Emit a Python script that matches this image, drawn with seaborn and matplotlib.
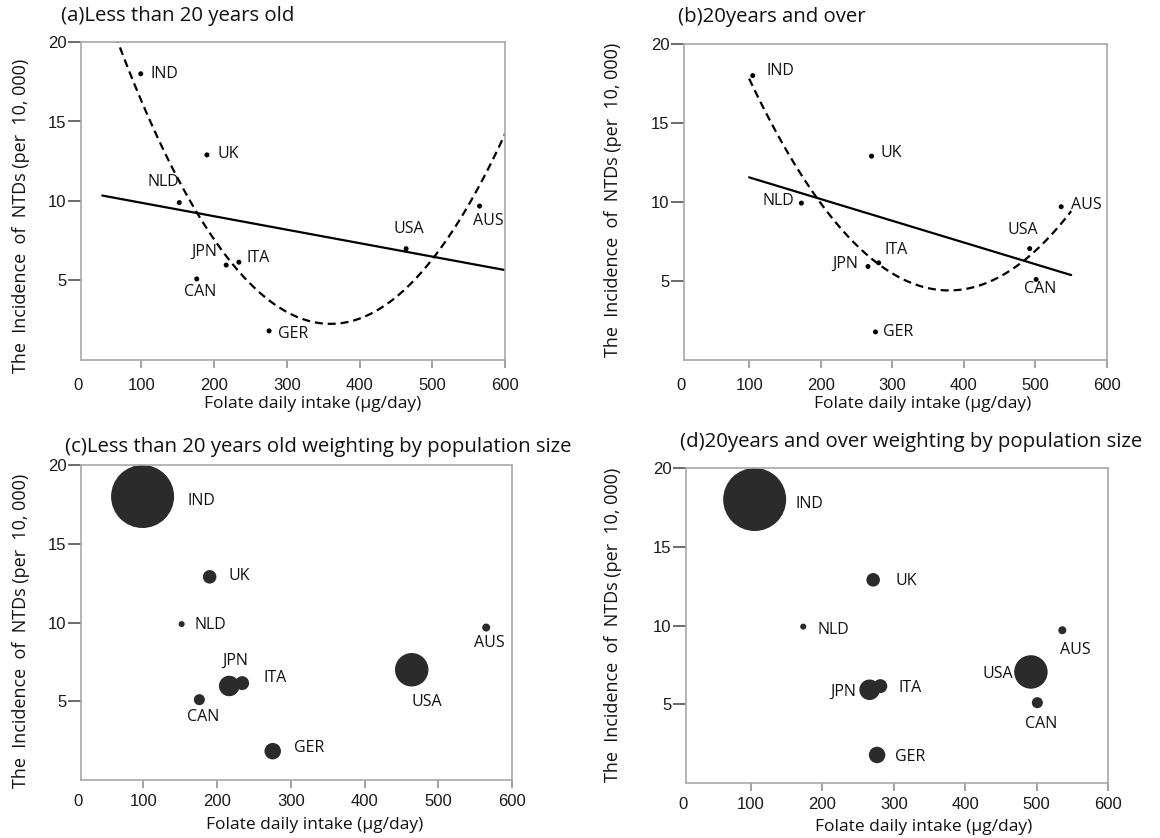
import numpy as np
import pandas as pd
import matplotlib
matplotlib.use('Agg')
import matplotlib.pyplot as plt
import seaborn as sns
from matplotlib import font_manager

COUNTRIES = ['IND', 'UK', 'NLD', 'JPN', 'ITA', 'CAN', 'GER', 'USA', 'AUS']

# less than 20 years old (panels a and c)
INTAKE_U20 = [99, 190, 152, 216.5, 234, 176, 275.5, 464, 565]
NTD_U20 = [18.0, 12.9, 9.9, 5.97, 6.15, 5.1, 1.83, 7.0, 9.68]

# 20 years and over (panels b and d)
INTAKE_O20 = [105, 271, 173, 266, 281, 501, 276.5, 492, 536]
NTD_O20 = [18.0, 12.9, 9.93, 5.92, 6.15, 5.1, 1.78, 7.05, 9.7]

# population weights (millions)
POPULATION = [1300, 60, 12, 138, 64, 40, 89, 367, 21]

TITLES = ['(a)Less than 20 years old',
          '(b)20years and over',
          '(c)Less than 20 years old weighting by population size',
          '(d)20years and over weighting by population size']
XTICKS = [100, 200, 300, 400, 500, 600]
YTICKS = [5, 10, 15, 20]
XLABEL = 'Folate daily intake (μg/day)'
YLABEL = 'The  Incidence  of  NTDs (per  10, 000)'

W, H = 1160, 838

# label placement: (ha, dx px, dy px)
LAB_A = {'IND': ('left', 10, 0), 'UK': ('left', 11, 1), 'NLD': ('center', -16, 21),
         'JPN': ('center', -22, 13), 'ITA': ('left', 8, 4), 'CAN': ('center', 3, -13),
         'GER': ('left', 9, -3), 'USA': ('center', 3, 20), 'AUS': ('center', 9, -15)}
LAB_B = {'IND': ('left', 14, 5), 'UK': ('left', 9, 3), 'NLD': ('right', -7, 2),
         'JPN': ('right', -10, 3), 'ITA': ('left', 6, 13), 'CAN': ('center', 4, -10),
         'GER': ('left', 8, 0), 'USA': ('center', -7, 19), 'AUS': ('left', 10, 2)}
LAB_C = {'IND': ('left', 45, -4), 'UK': ('left', 19, 1), 'NLD': ('left', 13, -1),
         'JPN': ('center', 6, 25), 'ITA': ('left', 21, 5), 'CAN': ('center', 4, -17),
         'GER': ('left', 21, 3), 'USA': ('center', 15, -32), 'AUS': ('center', 3, -15)}
LAB_D = {'IND': ('left', 41, -4), 'UK': ('left', 22, -1), 'NLD': ('left', 14, -3),
         'JPN': ('right', -13, -2), 'ITA': ('left', 18, -2), 'CAN': ('center', 4, -21),
         'GER': ('left', 18, -2), 'USA': ('right', -18, -2), 'AUS': ('center', 13, -20)}

# panel layout in pixels: axes box (left, right, top, bottom), xlim left, fit span,
# title (x, y), ylabel centre, xlabel centre, x tick pad
PANELS = [
    dict(box=(81, 505, 42, 360), xmin=16.8, span=(46, 600), bubble=False, pad=7,
         x=INTAKE_U20, y=NTD_U20, labels=LAB_A, title=(61, 16), ylab=(21, 216), xlab=(313, 404)),
    dict(box=(684, 1107, 44, 360), xmin=9, span=(100, 550), bubble=False, pad=7,
         x=INTAKE_O20, y=NTD_O20, labels=LAB_B, title=(678, 17), ylab=(613, 200), xlab=(923, 404)),
    dict(box=(81, 512, 465, 780), xmin=15.5, span=None, bubble=True, pad=4,
         x=INTAKE_U20, y=NTD_U20, labels=LAB_C, title=(65, 447), ylab=(21, 631), xlab=(315, 825)),
    dict(box=(686, 1108, 468, 783), xmin=8.8, span=None, bubble=True, pad=4,
         x=INTAKE_O20, y=NTD_O20, labels=LAB_D, title=(680, 442), ylab=(613, 625), xlab=(924, 827)),
]

sns.set_style('white')
names = {f.name for f in font_manager.fontManager.ttflist}
TICK_FONT = 'Liberation Sans Narrow' if 'Liberation Sans Narrow' in names else 'Liberation Sans'
plt.rcParams['font.family'] = ['Open Sans', 'DejaVu Sans']

fig = plt.figure(figsize=(W / 100, H / 100), dpi=100)

for i, p in enumerate(PANELS):
    l, r, t, b = p['box']
    ax = fig.add_axes([l / W, 1 - b / H, (r - l) / W, (b - t) / H])
    df = pd.DataFrame({'country': COUNTRIES, 'intake': p['x'], 'ntd': p['y'], 'pop': POPULATION})

    if p['bubble']:
        sns.scatterplot(data=df, x='intake', y='ntd', size='pop', sizes=(0, 2058),
                        size_norm=(0, 1300), color='#2b2b2b', edgecolor='none',
                        legend=False, ax=ax)
    else:
        # fitted linear and quadratic regressions drawn across the span
        ax.set_xlim(*p['span'])
        sns.regplot(data=df, x='intake', y='ntd', order=1, ci=None, scatter=False,
                    truncate=False, ax=ax, line_kws=dict(color='black', lw=1.6))
        sns.regplot(data=df, x='intake', y='ntd', order=2, ci=None, scatter=False,
                    truncate=False, ax=ax,
                    line_kws=dict(color='black', lw=1.6, ls=(0, (3.6, 2.2))))
        sns.scatterplot(data=df, x='intake', y='ntd', color='black', s=13,
                        edgecolor='none', legend=False, ax=ax)

    for c, xv, yv in zip(COUNTRIES, p['x'], p['y']):
        ha, dx, dy = p['labels'][c]
        ax.annotate(c, (xv, yv), xytext=(dx, dy), textcoords='offset pixels',
                    ha=ha, va='center', fontsize=11.5, color='#111111')

    ax.set_xlim(p['xmin'], 600)
    ax.set_ylim(0, 20)
    ax.set_xticks(XTICKS)
    ax.set_yticks(YTICKS)
    ax.set_xlabel('')
    ax.set_ylabel('')
    for s in ax.spines.values():
        s.set_visible(True)
        s.set_color('#a8a8a8')
        s.set_linewidth(1.2)
    ax.tick_params(axis='y', left=True, length=9.5, width=1.1, color='#444444',
                   pad=1, labelsize=12, labelcolor='#1a1a1a')
    ax.tick_params(axis='x', bottom=True, length=6, width=1.1, color='#888888',
                   pad=p['pad'], labelsize=12, labelcolor='#1a1a1a')
    for lbl in ax.get_xticklabels() + ax.get_yticklabels():
        lbl.set_family(TICK_FONT)
    ax.annotate('0', (0, 0), xycoords='axes fraction', xytext=(-2, -(6 + p['pad'])),
                textcoords='offset points', ha='center', va='top',
                fontsize=12, color='#1a1a1a', family=TICK_FONT)

    fig.text(p['title'][0] / W, 1 - p['title'][1] / H, TITLES[i], ha='left',
             va='center', fontsize=14.7, color='#111111')
    fig.text(p['ylab'][0] / W, 1 - p['ylab'][1] / H, YLABEL, rotation=90, ha='center',
             va='center', fontsize=13, color='#111111')
    fig.text(p['xlab'][0] / W, 1 - p['xlab'][1] / H, XLABEL, ha='center',
             va='center', fontsize=12.5, color='#111111')

fig.savefig('out.png', dpi=100)
